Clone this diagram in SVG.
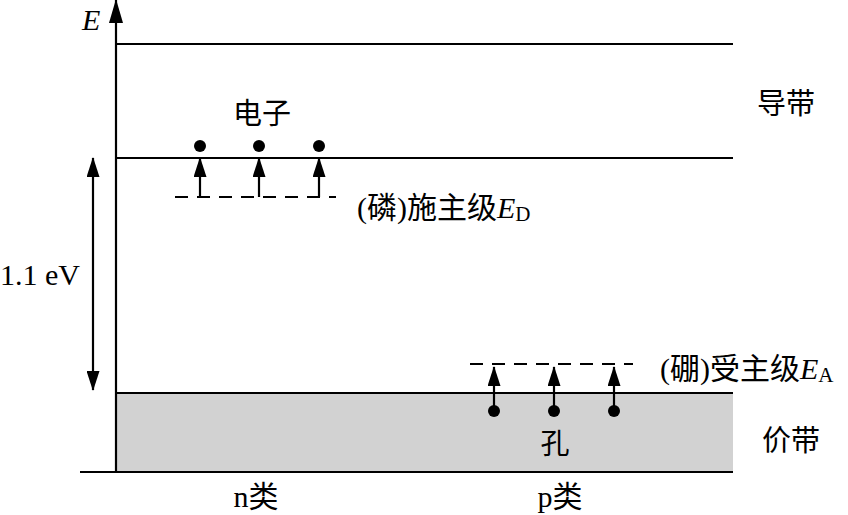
<svg xmlns="http://www.w3.org/2000/svg" width="848" height="515" viewBox="0 0 848 515">
<style>
.ln{stroke:#000;stroke-width:2;fill:none}
.dash{stroke:#000;stroke-width:2;fill:none;stroke-dasharray:13 9}
.ar{stroke:#000;stroke-width:2.2}
.tx{font-family:"Liberation Serif","Noto Sans CJK SC",serif;font-size:30px;fill:#000}
.cj{font-family:"Noto Sans CJK SC",sans-serif;font-size:29px;fill:#000}
</style>
<defs>
<marker id="ah" viewBox="0 0 20 13" refX="19" refY="6.5" markerWidth="20" markerHeight="13" markerUnits="userSpaceOnUse" orient="auto"><path d="M0,0 L20,6.5 L0,13 z" fill="#000"/></marker>
<marker id="ahb" viewBox="0 0 24 14" refX="23" refY="7" markerWidth="24" markerHeight="14" markerUnits="userSpaceOnUse" orient="auto"><path d="M0,0 L24,7 L0,14 z" fill="#000"/></marker>
</defs>
<g id="bands">
<rect x="116" y="393" width="617" height="80" fill="#d2d2d2"/>
<line class="ln" x1="116" y1="44" x2="733" y2="44"/>
<line class="ln" x1="116" y1="158" x2="733" y2="158"/>
<line class="ln" x1="116" y1="393" x2="733" y2="393"/>
<line class="ln" x1="80" y1="472" x2="733" y2="472"/>
</g>
<g id="axis">
<line x1="116" y1="472" x2="116" y2="0" class="ar" marker-end="url(#ahb)"/>
<text class="tx" x="82" y="30" font-style="italic" font-size="24">E</text>
</g>
<g id="gap">
<line x1="93" y1="275" x2="93" y2="158" class="ar" marker-end="url(#ah)"/>
<line x1="93" y1="275" x2="93" y2="390" class="ar" marker-end="url(#ah)"/>
<text class="tx" x="0" y="285">1.1 eV</text>
</g>
<g id="donor">
<line class="dash" x1="175" y1="197" x2="336" y2="197"/>
<text class="tx" x="357" y="218">(磷)施主级<tspan font-style="italic">E</tspan><tspan font-size="21" dy="3">D</tspan></text>
</g>
<g id="electrons">
<circle cx="200" cy="146" r="6"/>
<circle cx="259" cy="146" r="6"/>
<circle cx="319" cy="146" r="6"/>
<text class="cj" x="262" y="124" text-anchor="middle">电子</text>
</g>
<g id="acceptor">
<line class="dash" x1="470" y1="364" x2="633" y2="364"/>
<text class="tx" x="660" y="379">(硼)受主级<tspan font-style="italic">E</tspan><tspan font-size="21" dy="3">A</tspan></text>
</g>
<g id="holes">
<circle cx="494" cy="411" r="6"/>
<circle cx="554" cy="411" r="6"/>
<circle cx="614" cy="411" r="6"/>
<text class="cj" x="555" y="454" text-anchor="middle">孔</text>
</g>
<g id="connectors">
<line x1="200" y1="197" x2="200" y2="158" class="ar" marker-end="url(#ah)"/>
<line x1="259" y1="197" x2="259" y2="158" class="ar" marker-end="url(#ah)"/>
<line x1="319" y1="197" x2="319" y2="158" class="ar" marker-end="url(#ah)"/>
<line x1="494" y1="411" x2="494" y2="367" class="ar" marker-end="url(#ah)"/>
<line x1="554" y1="411" x2="554" y2="367" class="ar" marker-end="url(#ah)"/>
<line x1="614" y1="411" x2="614" y2="367" class="ar" marker-end="url(#ah)"/>
</g>
<g id="labels">
<text class="cj" x="786" y="114" text-anchor="middle">导带</text>
<text class="cj" x="791" y="451" text-anchor="middle">价带</text>
<text class="tx" x="256" y="507" text-anchor="middle">n类</text>
<text class="tx" x="560" y="507" text-anchor="middle">p类</text>
</g>
</svg>
